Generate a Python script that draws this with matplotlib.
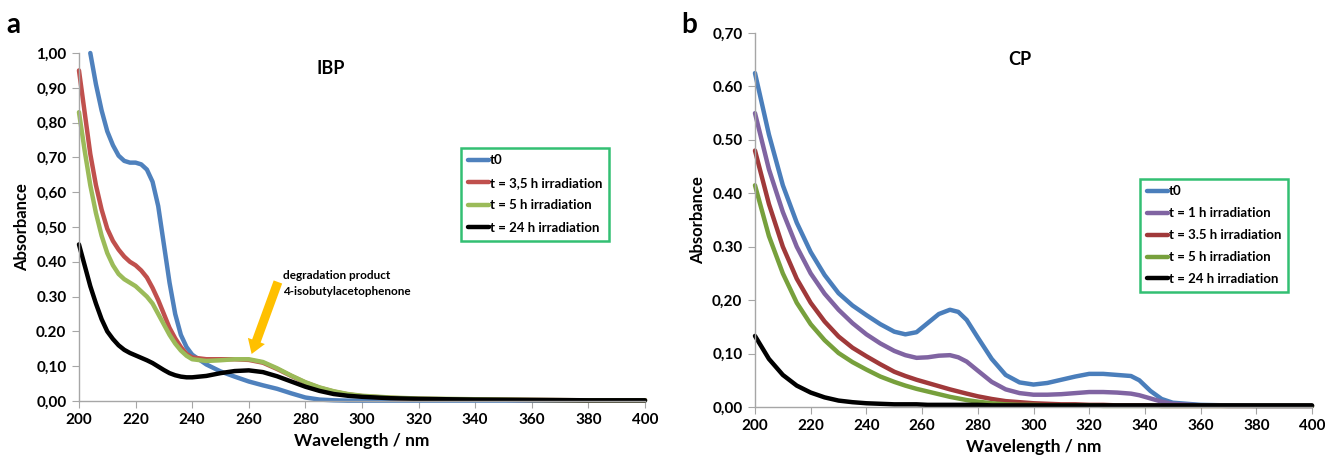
import matplotlib.pyplot as plt
from matplotlib.ticker import FixedLocator

plt.rcParams['font.family'] = ['Lato', 'DejaVu Sans']

# ---- panel a: IBP ----
wl_a = [200, 202, 204, 206, 208, 210, 212, 214, 216, 218, 220, 222, 224, 226, 228, 230, 232,
        234, 236, 238, 240, 245, 250, 255, 260, 265, 270, 275, 280, 285, 290, 295, 300, 310,
        320, 340, 360, 380, 400]
ibp_t0 = [None, None, 1.00, 0.91, 0.835, 0.775, 0.735, 0.705, 0.69, 0.685, 0.685, 0.68, 0.665,
          0.63, 0.56, 0.45, 0.34, 0.25, 0.19, 0.155, 0.133, 0.105, 0.085, 0.07, 0.056, 0.045,
          0.035, 0.022, 0.01, 0.004, 0.002, 0.001, 0.001, 0.001, 0.001, 0.001, 0.001, 0.001,
          0.001]
ibp_35h = [0.95, 0.83, 0.71, 0.62, 0.55, 0.495, 0.46, 0.435, 0.415, 0.40, 0.39, 0.375, 0.355,
           0.325, 0.29, 0.25, 0.21, 0.18, 0.155, 0.135, 0.125, 0.12, 0.12, 0.12, 0.118, 0.11,
           0.092, 0.072, 0.053, 0.038, 0.027, 0.019, 0.014, 0.009, 0.006, 0.004, 0.003, 0.002,
           0.002]
ibp_5h = [0.83, 0.72, 0.62, 0.54, 0.475, 0.425, 0.39, 0.365, 0.35, 0.34, 0.33, 0.315, 0.30,
          0.28, 0.25, 0.22, 0.19, 0.165, 0.145, 0.13, 0.12, 0.115, 0.117, 0.12, 0.12, 0.112,
          0.094, 0.073, 0.054, 0.039, 0.028, 0.02, 0.015, 0.01, 0.007, 0.005, 0.003, 0.002,
          0.002]
ibp_24h = [0.45, 0.39, 0.33, 0.28, 0.235, 0.20, 0.178, 0.16, 0.147, 0.138, 0.131, 0.124,
           0.117, 0.109, 0.099, 0.089, 0.08, 0.074, 0.07, 0.068, 0.068, 0.072, 0.08, 0.086,
           0.088, 0.083, 0.071, 0.056, 0.041, 0.029, 0.02, 0.015, 0.012, 0.008, 0.006, 0.004,
           0.003, 0.002, 0.002]
ibp_labels = ['t0', 't = 3,5 h irradiation', 't = 5 h irradiation', 't = 24 h irradiation']
ibp_colors = ['#4F81BD', '#C0504D', '#9BBB59', '#000000']
yticks_a = [0, 0.1, 0.2, 0.3, 0.4, 0.5, 0.6, 0.7, 0.8, 0.9, 1.0]
ylabels_a = ['0,00', '0,10', '0.20', '0.30', '0.40', '0,50', '0,60', '0,70', '0,80', '0,90', '1,00']

# ---- panel b: CP ----
wl_b = [200, 205, 210, 215, 220, 225, 230, 235, 240, 245, 250, 254, 258, 262, 266, 270, 273,
        276, 280, 285, 290, 295, 300, 305, 310, 315, 320, 325, 330, 335, 338, 342, 346, 350,
        360, 370, 380, 390, 400]
cp_t0 = [0.625, 0.51, 0.415, 0.345, 0.29, 0.247, 0.213, 0.19, 0.172, 0.155, 0.141, 0.136,
         0.14, 0.157, 0.174, 0.182, 0.178, 0.163, 0.13, 0.09, 0.06, 0.046, 0.042, 0.045,
         0.051, 0.057, 0.062, 0.062, 0.06, 0.058, 0.05, 0.03, 0.015, 0.008, 0.004, 0.003,
         0.002, 0.002, 0.002]
cp_1h = [0.55, 0.445, 0.365, 0.30, 0.25, 0.212, 0.182, 0.157, 0.136, 0.119, 0.105, 0.097,
         0.092, 0.093, 0.096, 0.097, 0.093, 0.085, 0.068, 0.047, 0.033, 0.026, 0.023, 0.023,
         0.024, 0.026, 0.028, 0.028, 0.027, 0.025, 0.022, 0.016, 0.01, 0.006, 0.003, 0.002,
         0.002, 0.002, 0.002]
cp_35h = [0.48, 0.38, 0.30, 0.24, 0.195, 0.16, 0.132, 0.111, 0.095, 0.08, 0.066, 0.058, 0.051,
          0.045, 0.039, 0.033, 0.029, 0.025, 0.02, 0.015, 0.011, 0.009, 0.007, 0.006, 0.005,
          0.005, 0.004, 0.004, 0.003, 0.003, 0.003, 0.003, 0.002, 0.002, 0.002, 0.002, 0.002,
          0.002, 0.002]
cp_5h = [0.415, 0.32, 0.25, 0.195, 0.155, 0.125, 0.101, 0.084, 0.07, 0.057, 0.047, 0.04, 0.034,
         0.029, 0.024, 0.019, 0.016, 0.013, 0.01, 0.007, 0.005, 0.004, 0.004, 0.003, 0.003,
         0.003, 0.003, 0.002, 0.002, 0.002, 0.002, 0.002, 0.002, 0.002, 0.002, 0.002, 0.002,
         0.002, 0.002]
cp_24h = [0.133, 0.09, 0.06, 0.04, 0.027, 0.018, 0.012, 0.009, 0.007, 0.006, 0.005, 0.005,
          0.005, 0.004, 0.004, 0.004, 0.004, 0.004, 0.004, 0.003, 0.003, 0.003, 0.003, 0.003,
          0.003, 0.003, 0.003, 0.003, 0.003, 0.003, 0.003, 0.003, 0.003, 0.003, 0.003, 0.003,
          0.003, 0.003, 0.003]
cp_labels = ['t0', 't = 1 h irradiation', 't = 3.5 h irradiation', 't = 5 h irradiation',
             't = 24 h irradiation']
cp_colors = ['#4A7EBB', '#8064A2', '#A0393A', '#77A03C', '#000000']
yticks_b = [0, 0.1, 0.2, 0.3, 0.4, 0.5, 0.6, 0.7]
ylabels_b = ['0,00', '0,10', '0,20', '0.30', '0.40', '0.50', '0.60', '0,70']

xticks = list(range(200, 401, 20))

fig = plt.figure(figsize=(13.25, 4.59), dpi=100)
ax1 = fig.add_axes([0.0596, 0.1264, 0.4272, 0.7581])
ax2 = fig.add_axes([0.5698, 0.1133, 0.4204, 0.8148])


def style_axes(ax, yticks, ylabels, ymax):
    ax.set_xlim(200, 400)
    ax.set_ylim(0, ymax)
    for s in ['top', 'right']:
        ax.spines[s].set_visible(False)
    for s in ['left', 'bottom']:
        ax.spines[s].set_color('#A6A6A6')
        ax.spines[s].set_linewidth(1)
    ax.xaxis.set_major_locator(FixedLocator(xticks))
    ax.set_xticklabels([str(x) for x in xticks], fontsize=11, fontweight='bold')
    ax.yaxis.set_major_locator(FixedLocator(yticks))
    ax.set_yticklabels(ylabels, fontsize=11, fontweight='bold')
    ax.tick_params(axis='both', direction='out', length=5, color='#A6A6A6', pad=4)
    ax.set_xlabel('Wavelength / nm', fontsize=12.5, fontweight='bold', labelpad=4)
    ax.set_ylabel('Absorbance', fontsize=12, fontweight='bold', labelpad=4)


for ys, c, lab in zip([ibp_t0, ibp_35h, ibp_5h, ibp_24h], ibp_colors, ibp_labels):
    ax1.plot(wl_a, [float('nan') if v is None else v for v in ys], color=c, lw=3.2,
             label=lab, solid_capstyle='round', clip_on=False)
style_axes(ax1, yticks_a, ylabels_a, 1.0)
ax1.text(0.445, 0.955, 'IBP', transform=ax1.transAxes, fontsize=13, fontweight='bold',
         ha='center', va='center')
leg1 = ax1.legend(loc='upper left', bbox_to_anchor=(0.6755, 0.728), fontsize=9.5,
                  handlelength=1.6, handletextpad=0.05, labelspacing=0.8, borderpad=0.5,
                  fancybox=False, frameon=True, borderaxespad=0)
leg1.get_frame().set_edgecolor('#00B050')
leg1.get_frame().set_linewidth(1.8)
for t in leg1.get_texts():
    t.set_fontweight('bold')
ax1.annotate('', xy=(261, 0.135), xytext=(270.3, 0.342),
             arrowprops=dict(arrowstyle='simple,head_width=1.3,head_length=1.0,tail_width=0.65',
                             color='#FFC000', lw=0, shrinkA=0, shrinkB=0))
ax1.text(272, 0.30, 'degradation product\n4-isobutylacetophenone', fontsize=8.5,
         fontweight='bold', ha='left', va='bottom', linespacing=1.5)

for ys, c, lab in zip([cp_t0, cp_1h, cp_35h, cp_5h, cp_24h], cp_colors, cp_labels):
    ax2.plot(wl_b, ys, color=c, lw=3.2, label=lab, solid_capstyle='round', clip_on=False)
style_axes(ax2, yticks_b, ylabels_b, 0.7)
ax2.text(0.475, 0.93, 'CP', transform=ax2.transAxes, fontsize=13, fontweight='bold',
         ha='center', va='center')
leg2 = ax2.legend(loc='upper left', bbox_to_anchor=(0.692, 0.61), fontsize=9.5,
                  handlelength=1.6, handletextpad=0.05, labelspacing=0.75, borderpad=0.5,
                  fancybox=False, frameon=True, borderaxespad=0)
leg2.get_frame().set_edgecolor('#00B050')
leg2.get_frame().set_linewidth(1.8)
for t in leg2.get_texts():
    t.set_fontweight('bold')

fig.text(0.005, 0.945, 'a', fontsize=20, fontweight='bold', ha='left', va='center')
fig.text(0.514, 0.945, 'b', fontsize=20, fontweight='bold', ha='left', va='center')

fig.savefig('out.png', dpi=100)
